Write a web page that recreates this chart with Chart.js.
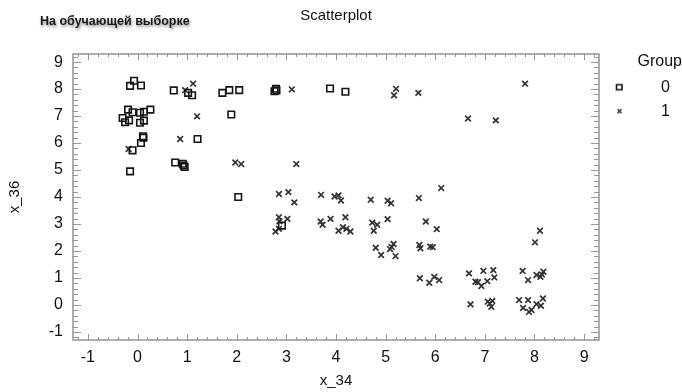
<!DOCTYPE html>
<html>
<head>
<meta charset="utf-8">
<script src="https://cdn.jsdelivr.net/npm/chart.js@4.4.0/dist/chart.umd.min.js"></script>
<style>
    html, body { margin: 0; padding: 0; background: #ffffff; }
    #chart_wrap { width: 682px; height: 392px; }
</style>
</head>
<body>
<div id="chart_wrap"><canvas id="scatter_canvas" width="682" height="392"></canvas></div>
<script>
'use strict';

var caption_text = 'На обучающей выборке';
var group_labels = ['0', '1'];

// group 0 (squares)
var group0_x = [-0.15, -0.07, 0.07, 0.73, 1.02, 1.10, 1.71, 1.85, 2.05,
    -0.19, -0.10, 0.05, 0.13, 0.26, -0.30, -0.25, -0.17, 0.05, 0.13, 1.89,
    0.11, 0.12, 0.07, 1.21, -0.10, -0.15, 0.76, 0.91, 0.95, 0.93,
    2.76, 2.79, 2.80, 3.88, 4.19, 2.03, 2.91];
var group0_y = [8.12, 8.31, 8.13, 7.95, 7.86, 7.77, 7.86, 7.96, 7.96,
    7.24, 7.14, 7.12, 7.16, 7.24, 6.93, 6.77, 6.84, 6.75, 6.83, 7.06,
    6.25, 6.20, 6.00, 6.15, 5.73, 4.95, 5.28, 5.23, 5.11, 5.17,
    7.92, 8.01, 7.95, 8.02, 7.90, 4.00, 2.94];

// group 1 (crosses)
var group1_x = [0.96, 1.12, 1.20, 0.86, -0.18, 1.97, 2.09, 3.11, 3.20, 5.21, 5.17, 5.66,
    6.66, 7.22, 7.81, 6.12,
    2.85, 3.04, 3.16, 3.70, 3.97, 4.05, 4.10, 4.70, 5.04, 5.11, 5.67,
    2.85, 3.02, 2.86, 2.78, 2.85,
    3.69, 3.73, 3.89, 4.19, 4.14, 4.05, 4.21, 4.29,
    4.73, 4.83, 4.76, 5.04,
    4.80, 4.91, 5.09, 5.16, 5.20, 5.12,
    5.68, 5.70, 5.90, 5.95, 5.81, 6.03,
    5.69, 5.88, 5.98, 6.08,
    6.68, 6.97, 7.17, 7.19, 6.81, 6.93, 7.05, 6.86,
    6.71, 7.06, 7.15, 7.13, 7.10,
    7.76, 7.87, 8.04, 8.12, 8.18, 8.15, 8.11, 8.01,
    7.69, 7.87, 7.77, 7.89, 7.94, 8.04, 8.13, 8.17];
var group1_y = [7.96, 8.20, 6.99, 6.15, 5.78, 5.28, 5.22, 7.99, 5.22, 8.01, 7.77, 7.86,
    6.91, 6.84, 8.20, 4.33,
    4.11, 4.18, 3.80, 4.08, 4.02, 4.06, 3.87, 3.90, 3.86, 3.77, 3.96,
    3.25, 3.19, 3.10, 2.72, 2.82,
    3.09, 2.97, 3.19, 3.25, 2.88, 2.75, 2.82, 2.72,
    3.05, 2.97, 2.75, 3.18,
    2.12, 1.85, 2.07, 2.26, 1.81, 2.15,
    2.22, 2.10, 2.16, 2.14, 3.09, 2.81,
    0.99, 0.82, 1.04, 0.92,
    1.17, 1.26, 1.29, 1.02, 0.86, 0.70, 0.88, 0.84,
    0.02, 0.12, 0.15, -0.07, 0.05,
    1.26, 0.92, 1.11, 1.04, 1.23, 1.13, 2.75, 2.32,
    0.18, 0.18, -0.11, -0.26, -0.19, 0.03, -0.03, 0.24];

var x_ticks = [-1, 0, 1, 2, 3, 4, 5, 6, 7, 8, 9];
var y_ticks = [-1, 0, 1, 2, 3, 4, 5, 6, 7, 8, 9];

var font_family = '"Liberation Sans", Arial, Helvetica, sans-serif';
var text_color = '#111111';
var frame_color = '#959595';
var legend_box_width = 83;

function make_points(xs, ys) {
    var pts = [];
    for (var i = 0; i < xs.length; i++) {
        pts.push({ x: xs[i], y: ys[i] });
    }
    return pts;
}

// legend icons: marker sits left inside a wide box so the label lands further right
function make_legend_icon(kind) {
    var c = document.createElement('canvas');
    c.width = 46;
    c.height = 14;
    var g = c.getContext('2d');
    g.strokeStyle = '#1a1a1a';
    g.lineWidth = 1.6;
    if (kind === 'rect') {
        g.strokeRect(9.5, 4.5, 5.5, 5);
    } else {
        g.strokeStyle = '#333333';
        g.beginPath();
        g.moveTo(10.5, 5); g.lineTo(14.5, 9);
        g.moveTo(14.5, 5); g.lineTo(10.5, 9);
        g.stroke();
    }
    return c;
}
var legend_icons = [make_legend_icon('rect'), make_legend_icon('cross')];

var legend_width_plugin = {
    id: 'legend_width',
    beforeLayout: function (chart) {
        var legend = chart.legend;
        if (legend && !legend.fixed_fit) {
            var orig_fit = legend.fit;
            legend.fit = function () {
                orig_fit.call(this);
                this.width = legend_box_width;
            };
            legend.fixed_fit = true;
        }
    }
};

// frame plus inward tick marks on all four sides
var inner_ticks_plugin = {
    id: 'inner_ticks',
    beforeDatasetsDraw: function (chart) {
        var ctx = chart.ctx;
        var area = chart.chartArea;
        var xs = chart.scales.x;
        var ys = chart.scales.y;
        var i, v, p, major, len;
        ctx.save();
        ctx.strokeStyle = frame_color;
        ctx.lineWidth = 1;
        ctx.beginPath();
        for (i = Math.ceil(xs.min / 0.2 - 1e-6); i * 0.2 <= xs.max + 1e-6; i++) {
            v = i * 0.2;
            major = Math.abs(v - Math.round(v)) < 1e-6;
            p = Math.round(xs.getPixelForValue(v)) + 0.5;
            len = major ? 6 : 3;
            ctx.moveTo(p, area.bottom); ctx.lineTo(p, area.bottom - len);
            ctx.moveTo(p, area.top); ctx.lineTo(p, area.top + len);
        }
        for (i = Math.ceil(ys.min / 0.2 - 1e-6); i * 0.2 <= ys.max + 1e-6; i++) {
            v = i * 0.2;
            major = Math.abs(v - Math.round(v)) < 1e-6;
            p = Math.round(ys.getPixelForValue(v)) + 0.5;
            len = major ? 8 : 5;
            ctx.moveTo(area.left, p); ctx.lineTo(area.left + len, p);
            ctx.moveTo(area.right, p); ctx.lineTo(area.right - len, p);
        }
        ctx.stroke();
        ctx.lineWidth = 1.5;
        ctx.strokeRect(area.left, area.top, area.right - area.left, area.bottom - area.top);
        ctx.restore();
    }
};

var caption_plugin = {
    id: 'caption',
    afterDraw: function (chart) {
        var ctx = chart.ctx;
        ctx.save();
        ctx.font = 'bold 12.5px ' + font_family;
        ctx.fillStyle = '#1a1a1a';
        ctx.shadowColor = 'rgba(0, 0, 0, 0.45)';
        ctx.shadowBlur = 3;
        ctx.shadowOffsetX = 1;
        ctx.shadowOffsetY = 2;
        ctx.textBaseline = 'middle';
        ctx.fillText(caption_text, 40, 22);
        ctx.restore();
    }
};

var cxt = document.getElementById('scatter_canvas').getContext('2d');
var chart_instance = new Chart(cxt, {
    type: 'scatter',
    data: {
        datasets: [{
            label: group_labels[0],
            data: make_points(group0_x, group0_y),
            pointStyle: 'rect',
            pointRadius: 4.6,
            borderColor: '#161616',
            backgroundColor: 'rgba(0, 0, 0, 0)',
            borderWidth: 1.6
        }, {
            label: group_labels[1],
            data: make_points(group1_x, group1_y),
            pointStyle: 'crossRot',
            pointRadius: 4,
            borderColor: '#333333',
            backgroundColor: '#333333',
            borderWidth: 1.7
        }]
    },
    options: {
        responsive: false,
        animation: false,
        devicePixelRatio: 1,
        layout: { padding: 0 },
        plugins: {
            title: {
                display: true,
                text: 'Scatterplot',
                fullSize: false,
                color: text_color,
                font: { family: font_family, size: 15, weight: 'normal' },
                padding: { top: 7, bottom: 29 }
            },
            legend: {
                position: 'right',
                align: 'start',
                fullSize: false,
                title: {
                    display: true,
                    text: 'Group',
                    position: 'end',
                    color: text_color,
                    font: { family: font_family, size: 16 },
                    padding: { top: 0, bottom: -2 }
                },
                labels: {
                    usePointStyle: true,
                    pointStyleWidth: 46,
                    padding: 8,
                    color: text_color,
                    font: { family: font_family, size: 16 },
                    generateLabels: function (chart) {
                        return chart.data.datasets.map(function (ds, i) {
                            return {
                                text: ds.label,
                                pointStyle: legend_icons[i],
                                datasetIndex: i,
                                hidden: false,
                                fontColor: text_color,
                                lineWidth: 0,
                                strokeStyle: 'rgba(0, 0, 0, 0)',
                                fillStyle: 'rgba(0, 0, 0, 0)'
                            };
                        });
                    }
                }
            },
            tooltip: { enabled: false }
        },
        scales: {
            x: {
                type: 'linear',
                position: 'bottom',
                min: -1.3,
                max: 9.3,
                afterBuildTicks: function (scale) {
                    scale.ticks = x_ticks.map(function (v) { return { value: v }; });
                },
                afterFit: function (scale) { scale.height = 52; },
                grid: { display: false, drawTicks: false },
                border: { display: false },
                ticks: {
                    padding: 8,
                    color: text_color,
                    maxRotation: 0,
                    autoSkip: false,
                    font: { family: font_family, size: 16 },
                    callback: function (value) { return String(value); }
                },
                title: {
                    display: true,
                    text: 'x_34',
                    color: text_color,
                    font: { family: font_family, size: 15 },
                    padding: { top: 0, bottom: 2 }
                }
            },
            y: {
                type: 'linear',
                min: -1.3,
                max: 9.3,
                afterBuildTicks: function (scale) {
                    scale.ticks = y_ticks.map(function (v) { return { value: v }; });
                },
                afterFit: function (scale) { scale.width = 73; },
                grid: { display: false, drawTicks: false },
                border: { display: false },
                ticks: {
                    padding: 10,
                    color: text_color,
                    autoSkip: false,
                    font: { family: font_family, size: 16 },
                    callback: function (value) { return String(value); }
                },
                title: {
                    display: true,
                    text: 'x_36',
                    color: text_color,
                    font: { family: font_family, size: 15 },
                    padding: { top: 6, bottom: 0 }
                }
            }
        }
    },
    plugins: [legend_width_plugin, inner_ticks_plugin, caption_plugin]
});
</script>
</body>
</html>
